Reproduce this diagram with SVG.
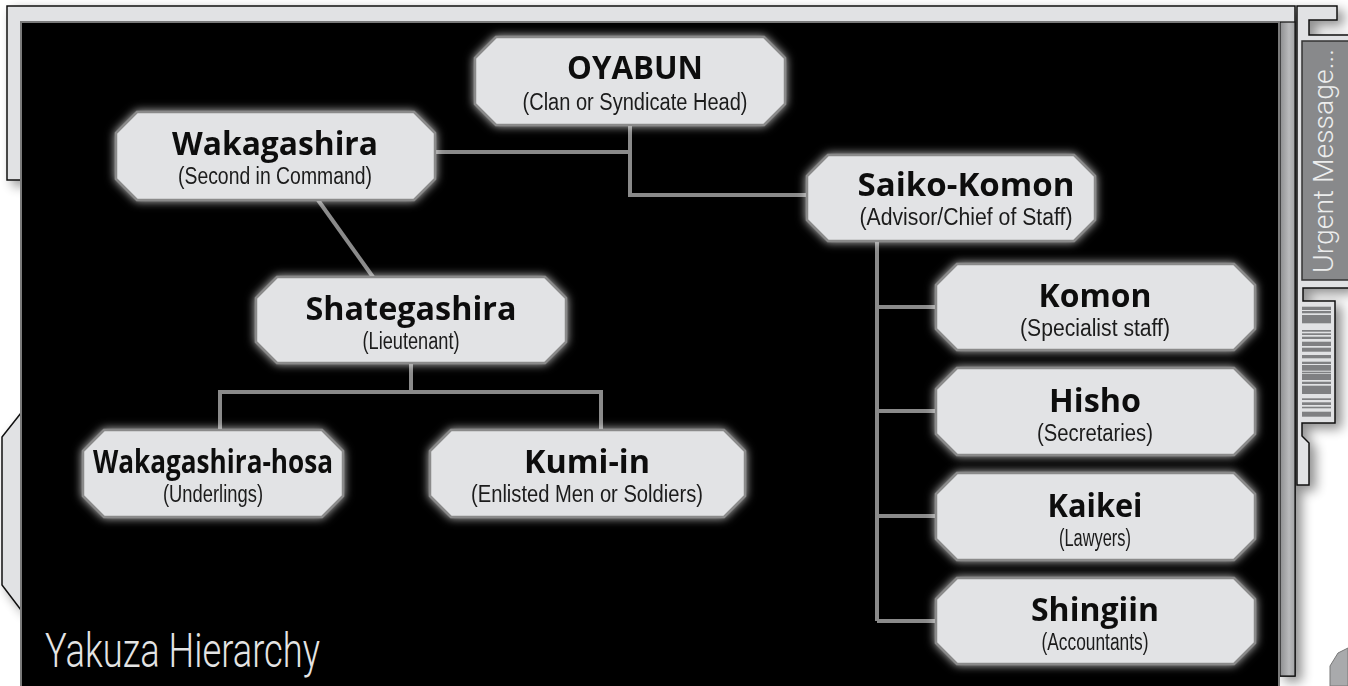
<svg xmlns="http://www.w3.org/2000/svg" width="1348" height="686" viewBox="0 0 1348 686">
<defs>
<style>
.frame{fill:#e1e2e4;stroke:#111;stroke-width:1.5}
.node{fill:#e2e3e5;stroke:#8a8a8a;stroke-width:2.5}
.t{font-family:"Open Sans","DejaVu Sans",sans-serif;font-weight:700;font-size:32px;fill:#111;text-anchor:middle}
.s{font-family:"Liberation Sans","DejaVu Sans",sans-serif;font-size:23px;fill:#1a1a1a;text-anchor:middle}
.c{fill:none;stroke:#8a8a8a;stroke-width:4}
.bar{fill:#7f8082}
</style>
<filter id="glow" x="-20%" y="-30%" width="140%" height="160%">
<feGaussianBlur in="SourceAlpha" stdDeviation="5" result="b"/>
<feFlood flood-color="#ffffff" flood-opacity="0.75"/>
<feComposite in2="b" operator="in" result="g"/>
<feMerge><feMergeNode in="g"/><feMergeNode in="SourceGraphic"/></feMerge>
</filter>
<filter id="shadow" x="-20%" y="-5%" width="160%" height="115%">
<feGaussianBlur in="SourceAlpha" stdDeviation="6"/>
<feOffset dx="6" dy="5" result="o"/>
<feComponentTransfer><feFuncA type="linear" slope="0.45"/></feComponentTransfer>
<feMerge><feMergeNode/><feMergeNode in="SourceGraphic"/></feMerge>
</filter>
<linearGradient id="strip" x1="0" y1="0" x2="1" y2="0">
<stop offset="0" stop-color="#8d8e90"/>
<stop offset="0.6" stop-color="#b9babc"/>
<stop offset="1" stop-color="#a3a4a6"/>
</linearGradient>
</defs>
<rect width="1348" height="686" fill="#ffffff"/>

<g id="frame">
<g filter="url(#shadow)">
<path class="frame" d="M7,6 H1295 V676 H1279 V22 H21 V180 H7 Z"/>
<polygon class="frame" points="21,413 2,437 2,585 21,610"/>
<path class="frame" d="M1297,6 H1337 V20 H1309 V35 H1349 V288 H1303 V301 H1335 V423 H1302 V436 L1309,443 V485 H1297 Z"/>
</g>
<rect x="1280" y="22" width="15" height="654" fill="url(#strip)" stroke="#111" stroke-width="1.2"/>
<rect x="21" y="22" width="1258" height="670" fill="#000" stroke="#7a7a7a" stroke-width="2"/>
<rect x="1302" y="41" width="48" height="239" fill="#88898b" stroke="#333" stroke-width="1.5"/>
<text transform="translate(1333,273) rotate(-90)" font-family="Roboto,'Open Sans',sans-serif" font-weight="300" font-size="27" fill="#eceded" textLength="224" lengthAdjust="spacingAndGlyphs">Urgent Message...</text>
<g id="barcode">
<rect class="bar" x="1302" y="306.7" width="29" height="3.3"/>
<rect class="bar" x="1302" y="311" width="29" height="2.3"/>
<rect class="bar" x="1302" y="315" width="29" height="8.3"/>
<rect class="bar" x="1302" y="330" width="29" height="1.7"/>
<rect class="bar" x="1302" y="333.3" width="29" height="1.7"/>
<rect class="bar" x="1302" y="336.7" width="29" height="2.3"/>
<rect class="bar" x="1302" y="341.7" width="29" height="4.3"/>
<rect class="bar" x="1302" y="347.7" width="29" height="4"/>
<rect class="bar" x="1302" y="355" width="29" height="3.3"/>
<rect class="bar" x="1302" y="361.7" width="29" height="2.3"/>
<rect class="bar" x="1302" y="365" width="29" height="5.7"/>
<rect class="bar" x="1302" y="371.7" width="29" height="1.6"/>
<rect class="bar" x="1302" y="374" width="29" height="6"/>
<rect class="bar" x="1302" y="381.7" width="29" height="2.3"/>
<rect class="bar" x="1302" y="385.7" width="29" height="8.3"/>
<rect class="bar" x="1302" y="398.3" width="29" height="1.7"/>
<rect class="bar" x="1302" y="402.3" width="29" height="2.7"/>
<rect class="bar" x="1302" y="406.7" width="29" height="1.6"/>
<rect class="bar" x="1302" y="411.7" width="29" height="5"/>
</g>
<polygon points="1348,648 1338,653 1330,666 1330,686 1348,686" fill="#a9aaac" stroke="#777" stroke-width="1"/>
<text x="45" y="667" font-family="Roboto,'Open Sans',sans-serif" font-weight="300" font-size="48" fill="#e4e4e4" textLength="275" lengthAdjust="spacingAndGlyphs">Yakuza Hierarchy</text>
</g>

<g id="connectors">
<path class="c" d="M435,152 H630"/>
<path class="c" d="M630,125 V195 H807"/>
<path class="c" d="M318,200 L373,277"/>
<path class="c" d="M411,363 V392"/>
<path class="c" d="M220,430 V392 H601 V430"/>
<path class="c" d="M877,241 V621"/>
<path class="c" d="M877,307 H936 M877,411 H936 M877,516 H936 M877,621 H936"/>
</g>

<g id="oyabun" filter="url(#glow)">
<polygon class="node" points="496,37 764,37 785,58 785,104 764,125 496,125 475,104 475,58"/>
<text class="t" x="635" y="79" textLength="136" lengthAdjust="spacingAndGlyphs">OYABUN</text>
<text class="s" x="635" y="110" textLength="225" lengthAdjust="spacingAndGlyphs">(Clan or Syndicate Head)</text>
</g>
<g id="wakagashira" filter="url(#glow)">
<polygon class="node" points="137,112 414,112 435,133 435,179 414,200 137,200 116,179 116,133"/>
<text class="t" x="275" y="155" textLength="206" lengthAdjust="spacingAndGlyphs">Wakagashira</text>
<text class="s" x="275" y="184" textLength="194" lengthAdjust="spacingAndGlyphs">(Second in Command)</text>
</g>
<g id="saiko-komon" filter="url(#glow)">
<polygon class="node" points="828,155 1074,155 1095,176 1095,220 1074,241 828,241 807,220 807,176"/>
<text class="t" x="966" y="196" textLength="217" lengthAdjust="spacingAndGlyphs">Saiko-Komon</text>
<text class="s" x="966" y="225" textLength="213" lengthAdjust="spacingAndGlyphs">(Advisor/Chief of Staff)</text>
</g>
<g id="shategashira" filter="url(#glow)">
<polygon class="node" points="277,277 545,277 566,298 566,342 545,363 277,363 256,342 256,298"/>
<text class="t" x="411" y="320" textLength="211" lengthAdjust="spacingAndGlyphs">Shategashira</text>
<text class="s" x="411" y="349" textLength="97" lengthAdjust="spacingAndGlyphs">(Lieutenant)</text>
</g>
<g id="wakagashira-hosa" filter="url(#glow)">
<polygon class="node" points="104,430 322,430 343,451 343,496 322,517 104,517 83,496 83,451"/>
<text class="t" x="213" y="473" textLength="240" lengthAdjust="spacingAndGlyphs">Wakagashira-hosa</text>
<text class="s" x="213" y="502" textLength="100" lengthAdjust="spacingAndGlyphs">(Underlings)</text>
</g>
<g id="kumi-in" filter="url(#glow)">
<polygon class="node" points="451,430 724,430 745,451 745,496 724,517 451,517 430,496 430,451"/>
<text class="t" x="587" y="473" textLength="126" lengthAdjust="spacingAndGlyphs">Kumi-in</text>
<text class="s" x="587" y="502" textLength="232" lengthAdjust="spacingAndGlyphs">(Enlisted Men or Soldiers)</text>
</g>
<g id="komon" filter="url(#glow)">
<polygon class="node" points="957,264 1234,264 1255,285 1255,329 1234,350 957,350 936,329 936,285"/>
<text class="t" x="1095" y="307" textLength="113" lengthAdjust="spacingAndGlyphs">Komon</text>
<text class="s" x="1095" y="336" textLength="150" lengthAdjust="spacingAndGlyphs">(Specialist staff)</text>
</g>
<g id="hisho" filter="url(#glow)">
<polygon class="node" points="957,368 1234,368 1255,389 1255,434 1234,455 957,455 936,434 936,389"/>
<text class="t" x="1095" y="412" textLength="92" lengthAdjust="spacingAndGlyphs">Hisho</text>
<text class="s" x="1095" y="441" textLength="116" lengthAdjust="spacingAndGlyphs">(Secretaries)</text>
</g>
<g id="kaikei" filter="url(#glow)">
<polygon class="node" points="957,473 1234,473 1255,494 1255,539 1234,560 957,560 936,539 936,494"/>
<text class="t" x="1095" y="517" textLength="95" lengthAdjust="spacingAndGlyphs">Kaikei</text>
<text class="s" x="1095" y="546" textLength="72" lengthAdjust="spacingAndGlyphs">(Lawyers)</text>
</g>
<g id="shingiin" filter="url(#glow)">
<polygon class="node" points="957,578 1234,578 1255,599 1255,643 1234,664 957,664 936,643 936,599"/>
<text class="t" x="1095" y="621" textLength="128" lengthAdjust="spacingAndGlyphs">Shingiin</text>
<text class="s" x="1095" y="650" textLength="107" lengthAdjust="spacingAndGlyphs">(Accountants)</text>
</g>
</svg>
